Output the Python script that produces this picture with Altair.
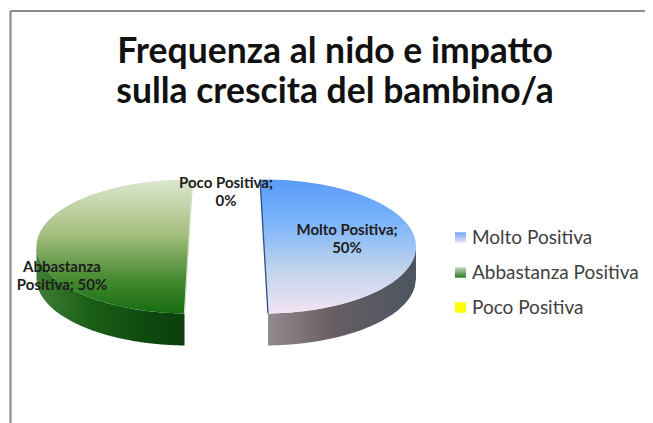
import numpy as np
import pandas as pd
import altair as alt

# ---- values
categories = ["Molto Positiva", "Abbastanza Positiva", "Poco Positiva"]
shares = [50, 50, 0]
title_lines = ["Frequenza al nido e impatto", "sulla crescita del bambino/a"]

# ---- layout (image pixels)
W, H = 637, 415
RX, RY, DEPTH = 152, 67, 32
CY = 246.5
centers = {"Molto Positiva": 264.0, "Abbastanza Positiva": 188.5}
tilt = 4.0

X = alt.X("x:Q", scale=alt.Scale(domain=[8, 8 + W]), axis=None)
Y = alt.Y("y:Q", scale=alt.Scale(domain=[8 + H, 8]), axis=None)


def grad(stops, vertical=True):
    return alt.Gradient(
        gradient="linear",
        stops=[alt.GradientStop(offset=o, color=c) for o, c in stops],
        x1=0, x2=0 if vertical else 1, y1=0, y2=1 if vertical else 0,
    )


def face(cat, side):
    # side=+1: right half of the ellipse, -1: left half; size follows the share
    cx = centers[cat]
    share = shares[categories.index(cat)]
    half = np.radians(share / 100 * 360) / 2
    y = np.linspace(CY - RY * 0.9997, CY + RY * np.sin(half) * 0.9997, 160)
    rim = cx + side * RX * np.sqrt(np.clip(1 - ((y - CY) / RY) ** 2, 0, 1))
    cut = cx + side * tilt * (y - CY) / RY
    return pd.DataFrame({"y": y, "x": cut, "x2": rim})


def wall(cat, side):
    cx = centers[cat]
    start = cx + side * tilt
    x = np.linspace(start, cx + side * RX, 120)
    low = CY + RY * np.sqrt(np.clip(1 - ((x - cx) / RX) ** 2, 0, 1))
    return pd.DataFrame({"x": x, "y": low, "y2": low + DEPTH})


def area_face(df, fill):
    return alt.Chart(df).mark_area(orient="horizontal", fill=fill, stroke=None).encode(
        y=Y, x=X, x2="x2:Q")


def area_wall(df, fill):
    return alt.Chart(df).mark_area(orient="vertical", fill=fill, stroke=None).encode(
        x=X, y=Y, y2="y2:Q")


def cut_line(df, color):
    return alt.Chart(df).mark_line(color=color, strokeWidth=1.3).encode(
        x=X, y=Y, order="y:Q")


m, a = categories[0], categories[1]
layers = [
    area_wall(wall(m, 1), grad([(0, "#948a90"), (0.45, "#665d63"), (1, "#4c5560")], False)),
    area_wall(wall(a, -1), grad([(0, "#3f7f35"), (0.35, "#1b5f18"), (0.7, "#0f4c0f"), (1, "#0b3e0b")], False)),
    area_face(face(m, 1), grad([(0, "#5b9cf6"), (0.3, "#79b3fb"), (0.65, "#bcd2ec"), (1, "#f4e4f4")])),
    area_face(face(a, -1), grad([(0, "#dce7d0"), (0.4, "#a6bf80"), (0.75, "#45892f"), (1, "#166c10")])),
    cut_line(face(m, 1)[["x", "y"]], "#25508f"),
    cut_line(face(a, -1)[["x", "y"]], "#d3dfc6"),
]

# ---- frame
frame = pd.DataFrame({"x": [10.5], "x2": [653.0], "y": [11.0], "y2": [423.0]})
layers.append(alt.Chart(frame).mark_rule(color="#8c8c8c", strokeWidth=2.2).encode(x=X, y=Y, x2="x2:Q"))
layers.append(alt.Chart(frame).mark_rule(color="#8c8c8c", strokeWidth=2.2).encode(x=X, y=Y, y2="y2:Q"))

# ---- data labels
label_x = [347, 62, 226]
label_y = [230, 267, 183]
label_text = ["Molto Positiva;\n50%", "Abbastanza\nPositiva; 50%", "Poco Positiva;\n0%"]
layers.append(
    alt.Chart(pd.DataFrame({"x": label_x, "y": label_y, "t": label_text}))
    .mark_text(font="Lato", fontWeight="bold", fontSize=15, lineBreak="\n", lineHeight=18,
               color="#1c1c1c", align="center", baseline="middle")
    .encode(x=X, y=Y, text="t:N")
)

# ---- legend
legend_y = [237.5, 272.5, 307.5]
swatches = [
    grad([(0, "#6aa5f8"), (1, "#eee4f6")]),
    grad([(0, "#c8d8b8"), (1, "#2a7a22")]),
    "#ffff00",
]
for cat, ly, fill in zip(categories, legend_y, swatches):
    df = pd.DataFrame({"x": [455.0], "x2": [466.0], "y": [ly - 5.2], "y2": [ly + 5.2], "t": [cat], "lx": [472.0], "ly": [ly]})
    layers.append(alt.Chart(df).mark_rect(fill=fill, stroke=None).encode(x=X, x2="x2:Q", y=Y, y2="y2:Q"))
    layers.append(
        alt.Chart(df).mark_text(font="Lato", fontSize=19, color="#404040", align="left", baseline="middle")
        .encode(x=alt.X("lx:Q", scale=alt.Scale(domain=[8, 8 + W]), axis=None),
                y=alt.Y("ly:Q", scale=alt.Scale(domain=[8 + H, 8]), axis=None), text="t:N")
    )

chart = (
    alt.layer(*layers)
    .properties(
        width=W, height=H, padding=0, autosize=alt.AutoSizeParams(type="none"), background="white",
        title=alt.TitleParams(text=title_lines, font="Lato", fontWeight="bold", fontSize=35.5,
                              lineHeight=40, color="#111111", anchor="start", align="center",
                              baseline="top", dx=327, dy=102, offset=0),
    )
    .configure_view(stroke=None)
)

chart.save("out.html", embed_options={"renderer": "svg", "actions": False})
